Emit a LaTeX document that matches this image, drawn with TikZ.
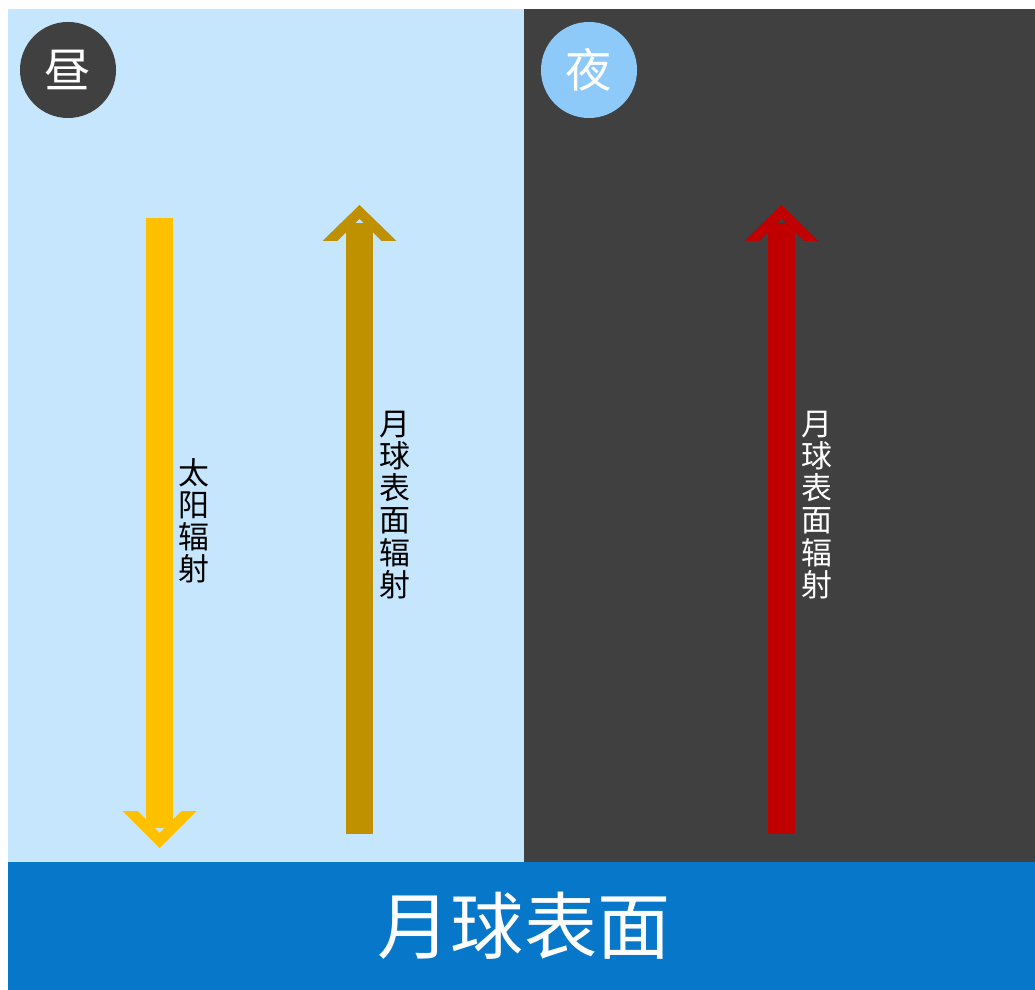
\documentclass[tikz,border=0pt]{standalone}
\usepackage{fontspec}
\newfontfamily\cjk{Noto Sans CJK SC}
\definecolor{daysky}{HTML}{C5E6FC}
\definecolor{nightsky}{HTML}{404040}
\definecolor{surface}{HTML}{0777C9}
\definecolor{nightdot}{HTML}{8DCAF9}
\definecolor{sunray}{HTML}{FFC000}
\definecolor{moonday}{HTML}{BF9000}
\definecolor{moonnight}{HTML}{C00000}
\begin{document}
\begin{tikzpicture}[x=0.025cm, y=-0.025cm, line join=round,
	badge/.style={circle, minimum size=2.4cm, inner sep=0pt, text=white, font=\cjk\fontsize{33}{36}\selectfont},
	raylabel/.style={anchor=west, align=center, inner sep=0pt, font=\cjk\fontsize{22}{22.8}\selectfont}]
	\useasboundingbox (0,0) rectangle (1035,990);
	% sky and ground
	\fill[daysky] (8,9) rectangle (524,862);
	\fill[nightsky] (524,9) rectangle (1035,862);
	\fill[surface] (8,862) rectangle (1035,990);
	\node[text=white, font=\cjk\fontsize{52}{58}\selectfont] (ground) at (524,926) {月球表面};
	\node[badge, fill=nightsky] (day) at (68,70) {昼};
	\node[badge, fill=nightdot] (night) at (589,70) {夜};
	% downward solar ray
	\fill[sunray] (146,218) rectangle (173,828);
	\fill[sunray] (122.5,811) -- (159.5,848) -- (196.5,811) -- (181.5,811) -- (159.5,833) -- (137.5,811) -- cycle;
	% upward surface rays
	\foreach \c/\x in {moonday/359.5, moonnight/781.5}{
		\fill[\c] (\x-13.5,223) rectangle (\x+13.5,834);
		\fill[\c] (\x-37,241) -- (\x,205) -- (\x+37,241) -- (\x+22,241) -- (\x,219) -- (\x-22,241) -- cycle;
	}
	\node[raylabel] (sunlabel) at (178,521) {太\\阳\\辐\\射};
	\node[raylabel] (daylabel) at (379,505) {月\\球\\表\\面\\辐\\射};
	\node[raylabel, text=white] (nightlabel) at (801,505) {月\\球\\表\\面\\辐\\射};
\end{tikzpicture}
\end{document}
